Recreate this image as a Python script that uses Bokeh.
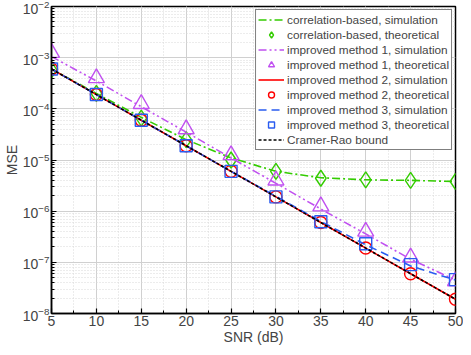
from bokeh.plotting import figure
from bokeh.models import FixedTicker, Legend, LegendItem
from bokeh.embed import file_html
from bokeh.resources import INLINE

snr = [5, 10, 15, 20, 25, 30, 35, 40, 45, 50]
corr_sim = [6.0e-4, 2.0e-4, 6.8e-5, 2.5e-5, 1.1e-5, 6.0e-6, 4.5e-6, 4.1e-6, 4.0e-6, 3.8e-6]
corr_theo = [5.8e-4, 2.0e-4, 6.6e-5, 2.5e-5, 1.0e-5, 6.0e-6, 4.4e-6, 4.1e-6, 4.0e-6, 3.8e-6]
imp1_sim = [1.05e-3, 3.5e-4, 1.1e-4, 3.5e-5, 1.1e-5, 3.5e-6, 1.1e-6, 3.6e-7, 1.15e-7, 4.5e-8]
imp1_theo = [1.25e-3, 4.0e-4, 1.25e-4, 4.0e-5, 1.25e-5, 4.0e-6, 1.25e-6, 4.0e-7, 1.25e-7, 4.3e-8]
imp2_sim = [6.0e-4, 1.9e-4, 6.0e-5, 1.9e-5, 6.0e-6, 1.9e-6, 6.0e-7, 1.9e-7, 6.0e-8, 1.9e-8]
imp2_theo = [6.0e-4, 1.9e-4, 6.0e-5, 1.9e-5, 6.0e-6, 1.9e-6, 6.0e-7, 1.9e-7, 6.0e-8, 1.9e-8]
imp3_sim = [6.0e-4, 1.9e-4, 6.0e-5, 1.9e-5, 6.0e-6, 1.95e-6, 6.3e-7, 2.2e-7, 8.5e-8, 4.5e-8]
imp3_theo = [6.0e-4, 1.9e-4, 6.0e-5, 1.9e-5, 6.0e-6, 1.9e-6, 6.2e-7, 2.3e-7, 9.0e-8, 4.6e-8]
crb = [6.0e-4, 1.9e-4, 6.0e-5, 1.9e-5, 6.0e-6, 1.9e-6, 6.0e-7, 1.9e-7, 6.0e-8, 1.9e-8]

x_ticks = [5, 10, 15, 20, 25, 30, 35, 40, 45, 50]
y_ticks = [1e-8, 1e-7, 1e-6, 1e-5, 1e-4, 1e-3, 1e-2]

GREEN = "#33cc00"
MAGENTA = "#c050f0"
RED = "#ff0000"
BLUE = "#2a5cf0"
FONT = "Liberation Sans"

p = figure(width=463, height=347, y_axis_type="log",
           x_range=(5, 50), y_range=(1e-8, 1e-2),
           output_backend="svg", toolbar_location=None,
           min_border_left=30, min_border_right=8, min_border_top=6, min_border_bottom=30)

p.outline_line_color = "black"
p.outline_line_width = 1.5

p.xaxis.ticker = FixedTicker(ticks=x_ticks, minor_ticks=[5 + 2.5 * i for i in range(19)])
minor_y = [k * 10.0 ** e for e in range(-8, -2) for k in range(1, 10)]
p.yaxis.ticker = FixedTicker(ticks=y_ticks, minor_ticks=minor_y)

for ax in (p.xaxis[0], p.yaxis[0]):
    ax.axis_line_width = 1.5
    ax.major_tick_in = 5
    ax.major_tick_out = 0
    ax.minor_tick_in = 3
    ax.minor_tick_out = 0
    ax.major_tick_line_width = 1.2
    ax.major_label_text_font = FONT
    ax.major_label_text_font_size = "14px"
    ax.axis_label_text_font = FONT
    ax.axis_label_text_font_size = "14px"
    ax.axis_label_text_font_style = "normal"
    ax.major_label_standoff = 2
    ax.axis_label_standoff = 0

p.xaxis.axis_label = "SNR (dB)"
p.yaxis.axis_label = "MSE"

p.xgrid.grid_line_color = "#d0d0d0"
p.ygrid.grid_line_color = "#d0d0d0"
p.xgrid.minor_grid_line_color = "#d8d8d8"
p.ygrid.minor_grid_line_color = "#d8d8d8"
p.xgrid.minor_grid_line_dash = "1 2"
p.ygrid.minor_grid_line_dash = "1 2"

r1 = p.line(snr, corr_sim, line_color=GREEN, line_width=1.6, line_dash="8 3 2 3")
r2 = p.scatter(snr, corr_theo, marker="diamond", size=16, fill_color=None, line_color=GREEN, line_width=1.4)
r3 = p.line(snr, imp1_sim, line_color=MAGENTA, line_width=1.6, line_dash="8 3 2 3 2 3")
r4 = p.scatter(snr, imp1_theo, marker="triangle", size=16, fill_color=None, line_color=MAGENTA, line_width=1.4)
r5 = p.line(snr, imp2_sim, line_color=RED, line_width=1.6)
r6 = p.scatter(snr, imp2_theo, marker="circle", size=12, fill_color=None, line_color=RED, line_width=1.4)
r7 = p.line(snr, imp3_sim, line_color=BLUE, line_width=1.6, line_dash="8 5")
r8 = p.scatter(snr, imp3_theo, marker="square", size=12, fill_color=None, line_color=BLUE, line_width=1.4)
r9 = p.line(snr, crb, line_color="black", line_width=1.6, line_dash="3 2")

labels = ["correlation-based, simulation", "correlation-based, theoretical",
          "improved method 1, simulation", "improved method 1, theoretical",
          "improved method 2, simulation", "improved method 2, theoretical",
          "improved method 3, simulation", "improved method 3, theoretical",
          "Cramer-Rao bound"]
rs = [r1, r2, r3, r4, r5, r6, r7, r8, r9]
legend = Legend(items=[LegendItem(label=l, renderers=[r]) for l, r in zip(labels, rs)],
                location="top_right")
legend.label_text_font = FONT
legend.label_text_font_size = "11.8px"
legend.glyph_width = 26
legend.glyph_height = 15
legend.label_height = 15
legend.spacing = 0
legend.padding = 2
legend.margin = 3
legend.label_standoff = 3
legend.border_line_color = "black"
legend.border_line_width = 1
legend.background_fill_alpha = 1
p.add_layout(legend)

open("out.html", "w").write(file_html(p, INLINE))
